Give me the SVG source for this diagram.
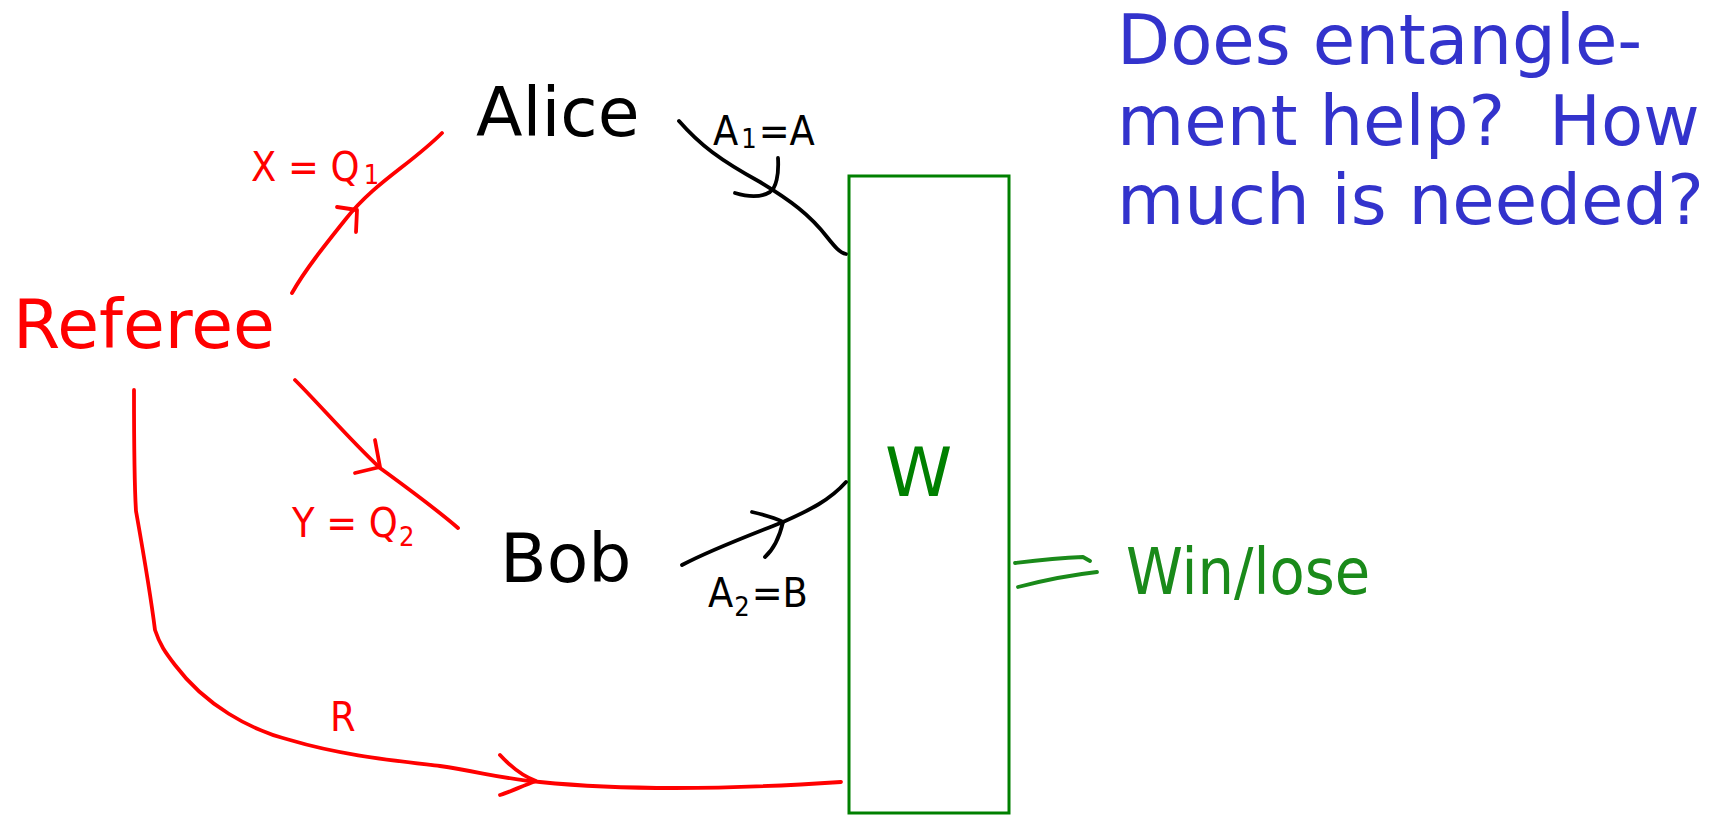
<svg xmlns="http://www.w3.org/2000/svg" width="1723" height="816" viewBox="0 0 1723 816">
<style>
.node{font-family:"DejaVu Sans",sans-serif;font-size:68px}
.hand{font-family:"DejaVu Sans Condensed","DejaVu Sans",sans-serif;font-size:41px}
.sub{font-size:27px}
.red{fill:#ff0000}
.blk{fill:#000000}
.grn{fill:#008000}
.ln{fill:none;stroke-width:3.8;stroke-linecap:round;stroke-linejoin:round}
.rs{stroke:#ff0000}
.ks{stroke:#000000}
.gs{stroke:#1a8a1a}
</style>
<rect width="1723" height="816" fill="#ffffff"/>
<g id="referee"><text class="node red" x="13" y="348">Referee</text></g>
<g id="alice"><text class="node blk" x="476" y="136">Alice</text></g>
<g id="bob"><text class="node blk" x="500" y="582">Bob</text></g>
<g id="judge">
<rect x="849" y="176" width="160" height="637" fill="none" stroke="#008000" stroke-width="3"/>
<text class="node grn" x="885" y="496" font-size="61">W</text>
</g>
<g id="question">
<text font-family="DejaVu Sans,sans-serif" font-size="69" fill="#3333cc" xml:space="preserve" style="white-space:pre">
<tspan x="1117" y="64">Does entangle-</tspan>
<tspan x="1117" y="145">ment help?  How</tspan>
<tspan x="1117" y="224">much is needed?</tspan>
</text>
</g>
<g id="connectors">
<path class="ln rs" d="M292,293 C305,270 325,245 345,220 C375,182 410,165 442,133"/>
<path class="ln rs" d="M337,207 L357,210 L356,232"/>
<text class="hand red" x="251" y="181">X = Q<tspan class="sub" dx="4" dy="3">1</tspan></text>
<path class="ln rs" d="M295,380 C320,405 350,440 380,468 C410,490 435,508 458,528"/>
<path class="ln rs" d="M375,440 L380,467 L355,473"/>
<text class="hand red" x="292" y="537">Y = Q<tspan class="sub" dx="1" dy="9">2</tspan></text>
<path class="ln rs" d="M134,390 C134,430 134,480 136,511 C142,545 150,590 155,630 C160,645 165,652 175,665 C205,705 250,730 290,740 C340,755 390,760 440,766 C480,772 510,780 540,782 C620,790 720,790 841,782"/>
<path class="ln rs" d="M500,755 C512,768 522,776 536,781 C522,786 510,792 500,795"/>
<text class="hand red" x="330" y="731">R</text>
<path class="ln ks" d="M679,121 C700,145 720,160 760,182 C790,200 810,215 827,237 C835,247 840,253 846,254"/>
<path class="ln ks" d="M778,158 C779,175 776,188 770,192 C760,198 745,196 735,193"/>
<text class="hand blk" x="713" y="145">A<tspan class="sub" dx="3" dy="3">1</tspan><tspan dx="2" dy="-3">=A</tspan></text>
<path class="ln ks" d="M682,565 C710,550 750,535 783,522 C810,510 830,500 846,482"/>
<path class="ln ks" d="M752,512 C765,515 775,518 783,522 C780,535 775,548 765,557"/>
<text class="hand blk" x="708" y="607">A<tspan class="sub" dx="1" dy="9">2</tspan><tspan dx="2" dy="-9">=B</tspan></text>
<path class="ln gs" d="M1015,563 C1040,560 1060,558 1083,557 L1090,561"/>
<path class="ln gs" d="M1018,587 C1045,580 1070,575 1097,572"/>
<text font-family="DejaVu Sans Condensed,DejaVu Sans,sans-serif" font-size="64" fill="#1a8a1a" x="1126" y="594">Win/lose</text>
</g>
</svg>
